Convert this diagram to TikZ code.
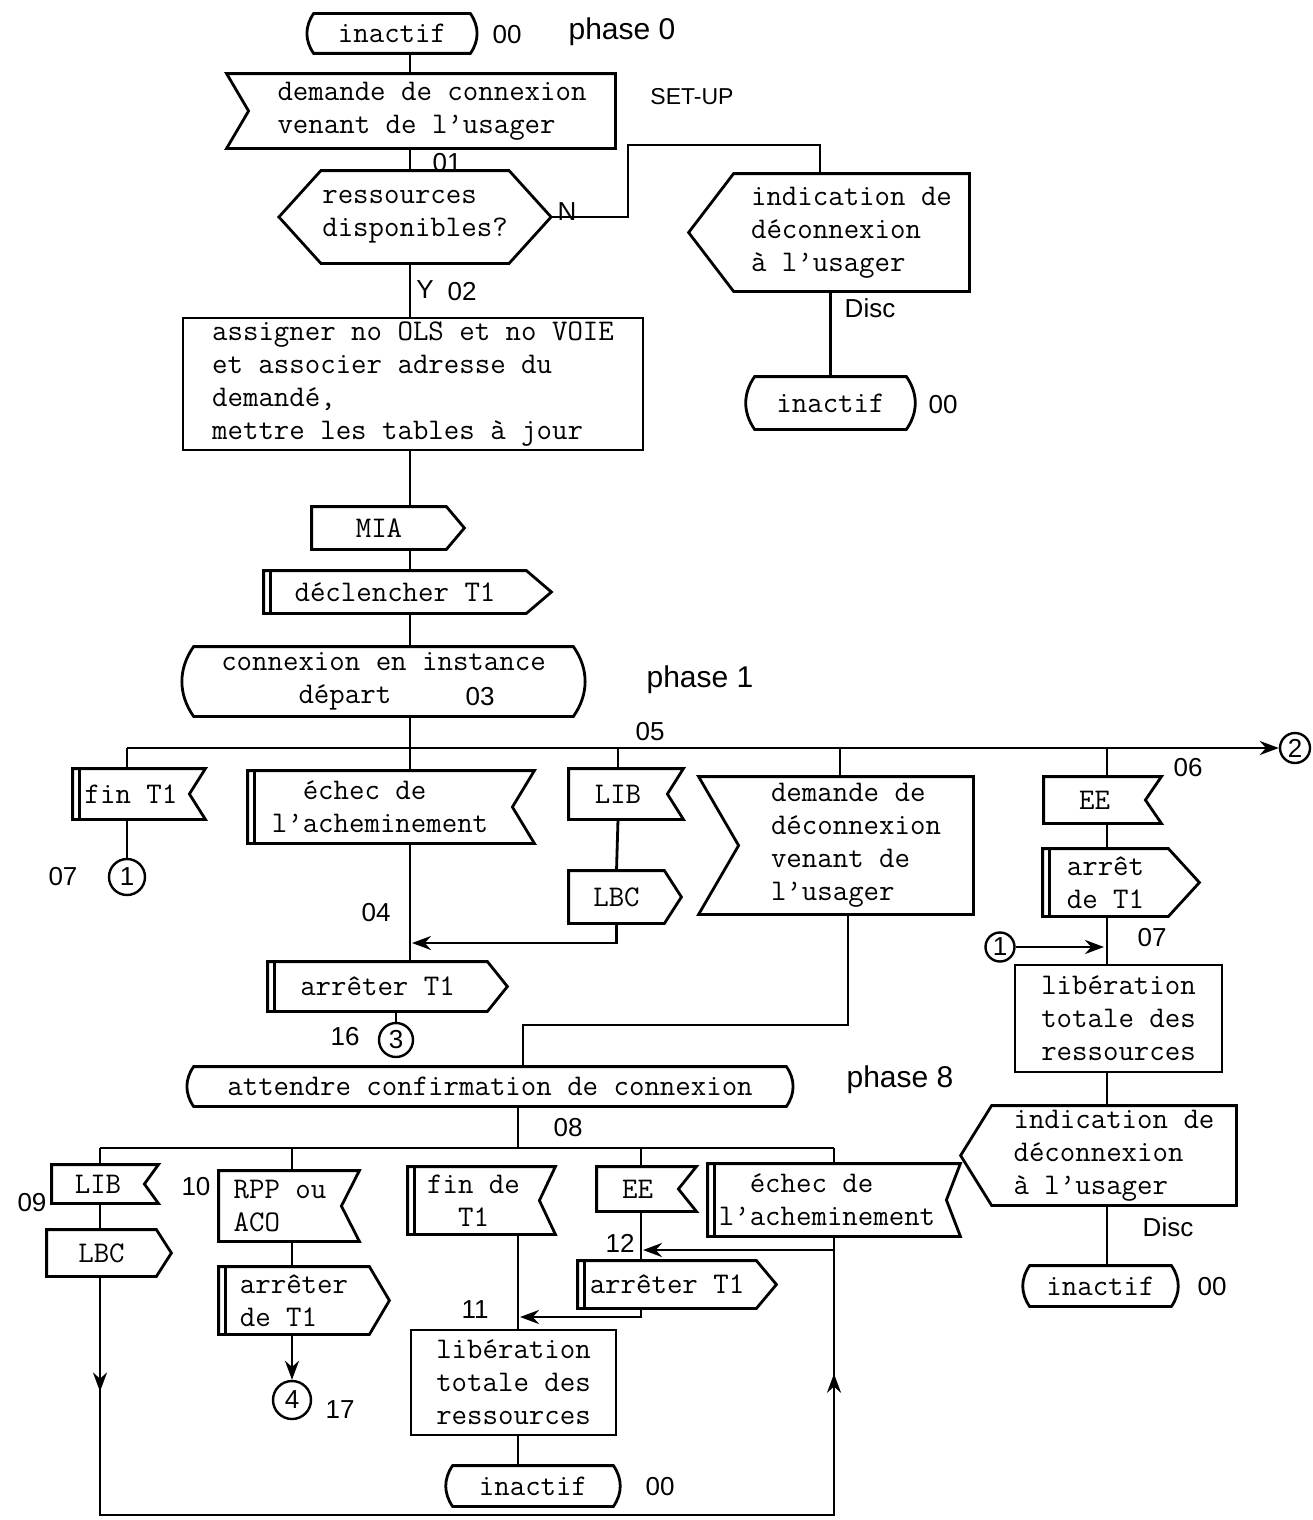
\documentclass[tikz,border=0pt]{standalone}
\usepackage{fontspec}
\newfontfamily\handfont{Liberation Sans}
\usetikzlibrary{arrows.meta,decorations.markings}

% outlines of the SDL symbols, drawn round a named node
\newcommand{\stateshape}[1]{%
  \draw (#1.north east) to[bend left=35] (#1.south east) -- (#1.south west)
    to[bend left=35] (#1.north west) -- cycle;}
\newcommand{\outputR}[2]{%
  \draw (#1.north west) -- (#1.north east) -- ([xshift=#2]#1.east)
    -- (#1.south east) -- (#1.south west) -- cycle;}
\newcommand{\outputL}[2]{%
  \draw (#1.north east) -- (#1.north west) -- ([xshift=-#2]#1.west)
    -- (#1.south west) -- (#1.south east) -- cycle;}
\newcommand{\inputR}[2]{%
  \draw (#1.north west) -- ([xshift=#2]#1.north east) -- (#1.east)
    -- ([xshift=#2]#1.south east) -- (#1.south west) -- cycle;}
\newcommand{\inputL}[2]{%
  \draw (#1.north east) -- ([xshift=-#2]#1.north west) -- (#1.west)
    -- ([xshift=-#2]#1.south west) -- (#1.south east) -- cycle;}
\newcommand{\decision}[2]{%
  \draw (#1.north west) -- (#1.north east) -- ([xshift=#2]#1.east)
    -- (#1.south east) -- (#1.south west) -- ([xshift=-#2]#1.west) -- cycle;}
\newcommand{\timerbar}[1]{%
  \draw ([xshift=7pt]#1.north west) -- ([xshift=7pt]#1.south west);}

\begin{document}
\begin{tikzpicture}[x=1pt,y=-1pt,line width=2.8pt,
	sdl/.style = {inner sep=0pt,align=left,font=\ttfamily\fontsize{30}{33}\selectfont},
	hand/.style = {inner sep=0pt,font=\handfont\fontsize{26}{28}\selectfont},
	conn/.style = {circle,draw,line width=2.4pt,inner sep=0pt,minimum size=32pt,
		font=\handfont\fontsize{26}{28}\selectfont},
	arr/.style = {-{Stealth[length=19pt,width=14pt]}},
	loop arrows/.style = {postaction={decorate},decoration={markings,
		mark=at position 0.093 with {\arrow{Stealth[length=19pt,width=14pt]}},
		mark=at position 0.9 with {\arrow{Stealth[length=19pt,width=14pt]}}}}]
\useasboundingbox (0,0) rectangle (1312,1520);

% columns and bends
\coordinate (colA) at (410,0);
\coordinate (colR) at (1107,0);
\coordinate (colM) at (518,0);
\coordinate (colP) at (292,0);
\coordinate (colE) at (641,0);
\coordinate (colD) at (848,0);
\coordinate (n1) at (628,145);
\coordinate (n2) at (820,145);
\coordinate (b1l) at (127,748);
\coordinate (dd) at (840,748);
\coordinate (j04) at (410,943);
\coordinate (j1) at (523,1025);
\coordinate (b2l) at (100,1148);
\coordinate (b2r) at (834,1148);
\coordinate (j12) at (834,1250);
\coordinate (j11) at (641,1317);
\coordinate (bl) at (100,1515);
\coordinate (br) at (834,1515);

% phase 0
\node[sdl,minimum width=154pt,minimum height=37pt] (st0) at (392,33.5) {inactif};
\node[sdl,minimum width=364pt,minimum height=72pt] (setup) at (432,111) {demande de connexion\\venant de l’usager};
\node[sdl,minimum width=175pt,minimum height=90pt] (dec) at (415,217) {ressources\\disponibles?};
\node[sdl,minimum width=233pt,minimum height=115pt] (ind1) at (851.5,232.5) {indication de\\déconnexion\\à l’usager};
\node[sdl,minimum width=149pt,minimum height=50pt] (st1) at (830.5,403) {inactif};
\node[sdl,draw,minimum width=460pt,minimum height=132pt] (task) at (413,384) {assigner no OLS et no VOIE\\et associer adresse du\\demandé,\\mettre les tables à jour};
\node[sdl,minimum width=132pt,minimum height=40pt] (mia) at (379,528) {MIA};
\node[sdl,minimum width=260pt,minimum height=40pt] (tone) at (395,592) {déclencher T1};
\node[sdl,minimum width=377pt,minimum height=67pt] (st2) at (383.5,681.5) {connexion en instance\\\phantom{xxxxx}départ};

% phase 1
\node[sdl,minimum width=114pt,minimum height=48pt] (fint1) at (131,794) {fin T1};
\node[sdl,minimum width=262pt,minimum height=70pt] (ech1) at (380,807) {\phantom{xx}échec de\\l’acheminement};
\node[sdl,minimum width=96pt,minimum height=48pt] (lib1) at (618,794) {LIB};
\node[sdl,minimum width=93pt,minimum height=50pt] (lbc1) at (616.5,897) {LBC};
\node[sdl,minimum width=232pt,minimum height=135pt] (ddc) at (856,845.5) {demande de\\déconnexion\\venant de\\l’usager};
\node[sdl,minimum width=99pt,minimum height=44pt] (ee1) at (1094.5,800) {EE};
\node[sdl,minimum width=123pt,minimum height=65pt] (arr2) at (1105.5,882.5) {arrêt\\de T1};
\node[sdl,minimum width=217pt,minimum height=47pt] (arr1) at (377.5,986.5) {arrêter T1};
\node[sdl,draw,minimum width=207pt,minimum height=107pt] (lib2) at (1118.5,1018.5) {libération\\totale des\\ressources};
\node[sdl,minimum width=242pt,minimum height=97pt] (ind2) at (1114,1155.5) {indication de\\déconnexion\\à l’usager};
\node[sdl,minimum width=139pt,minimum height=38pt] (st3) at (1100.5,1286) {inactif};
\node[sdl,minimum width=590pt,minimum height=37pt] (st4) at (490,1086.5) {attendre confirmation de connexion};

% phase 8
\node[sdl,minimum width=90pt,minimum height=36pt] (lib3) at (98,1184) {LIB};
\node[sdl,minimum width=107pt,minimum height=44pt] (lbc3) at (101.5,1253) {LBC};
\node[sdl,minimum width=120pt,minimum height=68pt] (rpp) at (280,1206) {RPP ou\\ACO};
\node[sdl,minimum width=148pt,minimum height=65pt] (arr3) at (294,1300.5) {arrêter\\de T1};
\node[sdl,align=center,minimum width=129pt,minimum height=65pt] (fdt) at (473.5,1200.5) {fin de\\T1};
\node[sdl,minimum width=79pt,minimum height=42pt] (ee2) at (637.5,1189) {EE};
\node[sdl,minimum width=176pt,minimum height=45pt] (arr4) at (667,1284.5) {arrêter T1};
\node[sdl,minimum width=236pt,minimum height=70pt] (ech2) at (827,1200) {\phantom{xx}échec de\\l’acheminement};
\node[sdl,draw,minimum width=205pt,minimum height=105pt] (lib4) at (513.5,1382.5) {libération\\totale des\\ressources};
\node[sdl,minimum width=158pt,minimum height=38pt] (st5) at (533,1486) {inactif};

% connectors circles
\node[conn,minimum size=36pt] (c1a) at (127,877) {1};
\node[conn,minimum size=30pt] (c2) at (1295,748) {2};
\node[conn,minimum size=34pt] (c3) at (396,1040) {3};
\node[conn,minimum size=29pt] (c1b) at (1000,947) {1};
\node[conn,minimum size=38pt] (c4) at (292,1400) {4};

% symbol outlines
\stateshape{st0} \inputL{setup}{22} \decision{dec}{42} \outputL{ind1}{45} \stateshape{st1}
\outputR{mia}{18} \outputR{tone}{25} \timerbar{tone} \stateshape{st2}
\inputR{fint1}{16} \timerbar{fint1} \inputR{ech1}{22} \timerbar{ech1}
\inputR{lib1}{16} \outputR{lbc1}{17} \inputL{ddc}{40} \inputR{ee1}{16}
\outputR{arr2}{31} \timerbar{arr2} \outputR{arr1}{20} \timerbar{arr1}
\outputL{ind2}{31} \stateshape{st3} \stateshape{st4}
\inputR{lib3}{14} \outputR{lbc3}{15} \inputR{rpp}{18} \outputR{arr3}{20} \timerbar{arr3}
\inputR{fdt}{16} \timerbar{fdt} \inputR{ee2}{18} \outputR{arr4}{20} \timerbar{arr4}
\inputR{ech2}{14} \timerbar{ech2} \stateshape{st5}

% handwritten numbers
\node[hand] (h00a) at (507,35) {00};
\node[hand,font=\handfont\fontsize{30}{32}\selectfont] (hph0) at (622,32) {phase 0};
\node[hand,font=\handfont\fontsize{23}{25}\selectfont] (hsetup) at (692,97) {SET-UP};
\node[hand] (h01) at (447,163) {01};
\node[hand] (hN) at (567,212) {N};
\node[hand] (hY) at (425,290) {Y};
\node[hand] (h02) at (462,292) {02};
\node[hand] (hdisc1) at (870,308) {Disc};
\node[hand] (h00b) at (943,405) {00};
\node[hand] (h03) at (480,697) {03};
\node[hand,font=\handfont\fontsize{30}{32}\selectfont] (hph1) at (700,680) {phase 1};
\node[hand] (h05) at (650,732) {05};
\node[hand] (h06) at (1188,768) {06};
\node[hand] (h07a) at (63,877) {07};
\node[hand] (h04) at (376,913) {04};
\node[hand] (h07b) at (1152,938) {07};
\node[hand] (h16) at (345,1037) {16};
\node[hand,font=\handfont\fontsize{30}{32}\selectfont] (hph8) at (900,1080) {phase 8};
\node[hand] (h08) at (568,1128) {08};
\node[hand] (h09) at (32,1203) {09};
\node[hand] (h10) at (196,1187) {10};
\node[hand] (h12) at (620,1243) {12};
\node[hand] (h11) at (475,1310) {11};
\node[hand] (h17) at (340,1410) {17};
\node[hand] (hdisc2) at (1168,1227) {Disc};
\node[hand] (h00c) at (1212,1287) {00};
\node[hand] (h00d) at (660,1487) {00};

% main column
\draw (st0.south -| colA) -- (setup.north -| colA);
\draw (setup.south -| colA) -- (dec.north -| colA);
\draw (dec.south -| colA) -- (task.north -| colA);
\draw (task.south -| colA) -- (mia.north -| colA);
\draw (mia.south -| colA) -- (tone.north -| colA);
\draw (tone.south -| colA) -- (st2.north -| colA);
\draw (st2.south -| colA) -- (ech1.north -| colA);
\draw (ech1.south -| colA) -- (arr1.north -| colA);
\draw (arr1.south -| c3) -- (c3.north);
% no resources
\draw ([xshift=42pt]dec.east) -| (n1) -- (n2) -- (ind1.north -| n2);
\draw (ind1.south -| st1) -- (st1.north);
% phase 1 bus
\draw[arr] (b1l) -- (c2.west);
\draw (b1l) -- (fint1.north -| b1l);
\draw (fint1.south -| c1a) -- (c1a.north);
\draw (lib1.north) -- (lib1.north |- b1l);
\draw (lib1.south) -- (lbc1.north);
\draw[arr,shorten >=2pt] (lbc1.south) |- (j04);
\draw (dd) -- (ddc.north -| dd);
\draw (ddc.south -| colD) |- (j1) -- (st4.north -| j1);
\draw (colR |- b1l) -- (ee1.north -| colR);
\draw (ee1.south -| colR) -- (arr2.north -| colR);
\draw (arr2.south -| colR) -- (lib2.north -| colR);
\draw[arr,shorten >=3pt] (c1b.east) -- (c1b.east -| colR);
\draw (lib2.south -| colR) -- (ind2.north -| colR);
\draw (ind2.south -| colR) -- (st3.north -| colR);
% phase 8 bus
\draw (st4.south -| colM) -- (b2l -| colM);
\draw (b2l) -- (b2r);
\draw (b2l) -- (lib3.north -| b2l);
\draw (lib3.south -| b2l) -- (lbc3.north -| b2l);
\draw (colP |- b2l) -- (rpp.north -| colP);
\draw (rpp.south -| colP) -- (arr3.north -| colP);
\draw[arr] (arr3.south -| colP) -- (c4.north);
\draw (colE |- b2l) -- (ee2.north -| colE);
\draw (ee2.south -| colE) -- (arr4.north -| colE);
\draw (b2r) -- (ech2.north -| b2r);
\draw (ech2.south -| b2r) -- (j12);
\draw[arr,shorten >=2pt] (j12) -- (j12 -| colE);
\draw[arr,shorten >=2pt] (arr4.south -| colE) -- (j11) -- (j11 -| colM);
\draw (fdt.south -| colM) -- (lib4.north -| colM);
\draw (lib4.south -| colM) -- (st5.north -| colM);
\draw[loop arrows] (lbc3.south -| b2l) -- (bl) -- (br) -- (j12);
\end{tikzpicture}
\end{document}
